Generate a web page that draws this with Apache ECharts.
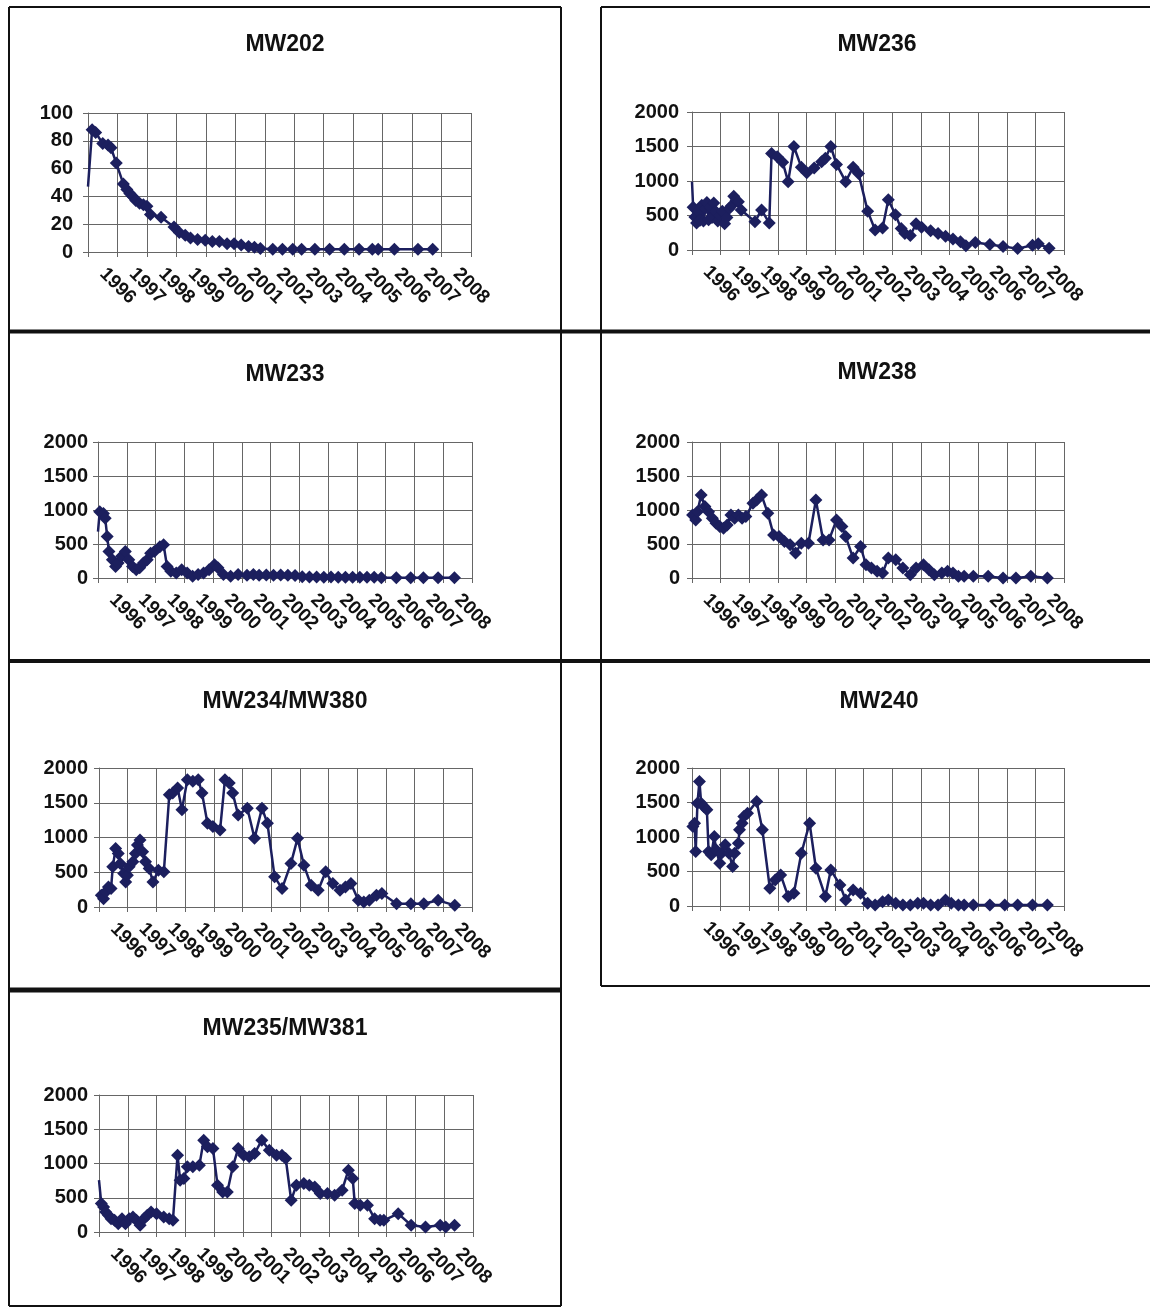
<!DOCTYPE html>
<html><head><meta charset="utf-8">
<script src="https://cdn.jsdelivr.net/npm/echarts@6/dist/echarts.min.js"></script>
<style>html,body{margin:0;padding:0;background:#fff}#c{width:1150px;height:1310px}</style>
</head><body><div id="c"></div>
<script>
// ---------- DATA ----------
const years = ['1996','1997','1998','1999','2000','2001','2002','2003','2004','2005','2006','2007','2008'];

const mw202Start = [1996.0, 47];
const mw202 = [[1996.14,88],[1996.26,86],[1996.5,78],[1996.68,77],[1996.78,75],[1996.96,64],[1997.2,49],[1997.32,45],[1997.42,42],[1997.52,40],[1997.62,37],[1997.75,35],[1997.88,34],[1998.0,33],[1998.12,27],[1998.48,25],[1998.92,18],[1999.1,14],[1999.3,12],[1999.48,10],[1999.72,9],[1999.98,8.5],[2000.22,7.5],[2000.46,7.5],[2000.72,6],[2000.96,6],[2001.2,5],[2001.45,4],[2001.65,3.5],[2001.85,2.5],[2002.27,2],[2002.6,2],[2002.95,2],[2003.25,2],[2003.7,2],[2004.2,2],[2004.7,2],[2005.2,2],[2005.65,2],[2005.85,2],[2006.4,2],[2007.2,2],[2007.7,2]];

const mw236Start = [1996.0, 990];
const mw236 = [[1996.04,620],[1996.1,480],[1996.16,390],[1996.22,560],[1996.28,430],[1996.34,650],[1996.4,420],[1996.46,600],[1996.52,690],[1996.58,440],[1996.64,620],[1996.7,470],[1996.76,680],[1996.82,560],[1996.9,420],[1996.98,500],[1997.06,560],[1997.14,380],[1997.22,470],[1997.3,600],[1997.38,640],[1997.46,780],[1997.54,720],[1997.62,700],[1997.72,580],[1998.2,410],[1998.43,580],[1998.7,390],[1998.78,1400],[1998.98,1350],[1999.17,1270],[1999.36,990],[1999.56,1500],[1999.82,1200],[2000.01,1120],[2000.27,1190],[2000.53,1280],[2000.66,1330],[2000.85,1500],[2001.05,1240],[2001.37,990],[2001.63,1200],[2001.82,1110],[2002.14,560],[2002.4,290],[2002.66,320],[2002.86,730],[2003.11,510],[2003.31,310],[2003.44,240],[2003.63,210],[2003.83,380],[2004.02,330],[2004.34,280],[2004.6,240],[2004.86,200],[2005.12,160],[2005.38,120],[2005.57,60],[2005.9,110],[2006.41,80],[2006.87,50],[2007.38,20],[2007.9,70],[2008.1,90],[2008.48,25]];

const mw233Start = [1996.0, 683];
const mw233 = [[1996.06,975],[1996.19,950],[1996.25,880],[1996.32,610],[1996.38,390],[1996.5,270],[1996.61,170],[1996.7,220],[1996.82,320],[1996.95,390],[1997.07,270],[1997.2,170],[1997.33,120],[1997.45,150],[1997.58,220],[1997.71,270],[1997.83,365],[1997.96,390],[1998.15,460],[1998.28,490],[1998.4,170],[1998.53,100],[1998.72,75],[1998.91,120],[1999.1,75],[1999.29,25],[1999.48,50],[1999.67,75],[1999.86,120],[2000.05,195],[2000.17,150],[2000.36,50],[2000.61,25],[2000.87,50],[2001.18,40],[2001.4,50],[2001.6,40],[2001.85,45],[2002.1,40],[2002.35,45],[2002.6,40],[2002.85,35],[2003.1,20],[2003.35,15],[2003.6,15],[2003.85,10],[2004.1,15],[2004.35,10],[2004.6,10],[2004.85,10],[2005.1,10],[2005.35,10],[2005.6,10],[2005.85,5],[2006.37,5],[2006.87,5],[2007.31,5],[2007.82,5],[2008.39,5]];

const mw238Start = null;
const mw238 = [[1996.02,927],[1996.13,854],[1996.19,976],[1996.32,1220],[1996.45,1050],[1996.58,976],[1996.71,878],[1996.84,805],[1996.97,756],[1997.1,732],[1997.23,780],[1997.36,927],[1997.49,878],[1997.62,927],[1997.75,878],[1997.88,903],[1998.13,1098],[1998.26,1146],[1998.43,1220],[1998.65,951],[1998.85,634],[1999.04,610],[1999.23,537],[1999.43,488],[1999.62,366],[1999.82,512],[2000.07,512],[2000.33,1146],[2000.58,560],[2000.79,560],[2001.05,854],[2001.24,756],[2001.37,610],[2001.63,293],[2001.89,463],[2002.08,195],[2002.27,146],[2002.47,98],[2002.66,73],[2002.86,293],[2003.12,268],[2003.37,146],[2003.63,49],[2003.83,146],[2004.09,195],[2004.28,122],[2004.47,49],[2004.73,73],[2004.93,98],[2005.12,73],[2005.31,24],[2005.51,24],[2005.83,24],[2006.35,24],[2006.87,0],[2007.32,0],[2007.84,24],[2008.42,0]];

const mw234Start = null;
const mw234 = [[1996.08,169],[1996.16,120],[1996.23,217],[1996.33,289],[1996.42,265],[1996.48,578],[1996.58,843],[1996.67,771],[1996.74,627],[1996.86,482],[1996.93,361],[1996.99,458],[1997.05,578],[1997.18,650],[1997.27,771],[1997.34,892],[1997.43,964],[1997.52,795],[1997.62,650],[1997.75,554],[1997.88,361],[1998.07,530],[1998.26,506],[1998.45,1615],[1998.57,1639],[1998.74,1711],[1998.89,1398],[1999.08,1832],[1999.27,1808],[1999.46,1832],[1999.59,1639],[1999.78,1205],[1999.97,1157],[2000.22,1109],[2000.39,1832],[2000.54,1783],[2000.66,1639],[2000.85,1325],[2001.17,1422],[2001.42,988],[2001.68,1422],[2001.87,1205],[2002.12,434],[2002.38,265],[2002.69,627],[2002.92,988],[2003.14,602],[2003.39,313],[2003.64,241],[2003.9,506],[2004.15,337],[2004.4,241],[2004.59,289],[2004.78,337],[2005.04,96],[2005.23,72],[2005.42,96],[2005.67,169],[2005.86,193],[2006.37,48],[2006.87,48],[2007.32,48],[2007.82,96],[2008.4,24]];

const mw240Start = null;
const mw240 = [[1996.03,1153],[1996.09,1200],[1996.13,790],[1996.19,1490],[1996.26,1805],[1996.32,1490],[1996.41,1443],[1996.52,1395],[1996.58,790],[1996.67,741],[1996.78,1007],[1996.84,814],[1996.97,620],[1997.03,765],[1997.16,886],[1997.29,765],[1997.42,571],[1997.49,765],[1997.62,910],[1997.66,1104],[1997.75,1200],[1997.81,1298],[1997.94,1346],[1998.26,1516],[1998.46,1104],[1998.72,257],[1998.91,378],[1999.1,450],[1999.36,136],[1999.56,184],[1999.82,765],[2000.11,1200],[2000.33,547],[2000.66,136],[2000.85,523],[2001.17,305],[2001.37,87],[2001.63,232],[2001.89,184],[2002.14,39],[2002.4,15],[2002.66,63],[2002.86,87],[2003.12,39],[2003.37,15],[2003.63,15],[2003.89,39],[2004.09,39],[2004.34,15],[2004.6,15],[2004.86,87],[2005.06,39],[2005.31,15],[2005.51,15],[2005.83,15],[2006.41,15],[2006.93,15],[2007.38,15],[2007.9,15],[2008.42,15]];

const mw235Start = [1996.0, 756];
const mw235 = [[1996.08,415],[1996.16,366],[1996.23,293],[1996.33,244],[1996.42,195],[1996.54,171],[1996.67,122],[1996.8,195],[1996.92,122],[1997.05,195],[1997.18,220],[1997.3,171],[1997.43,98],[1997.56,195],[1997.68,244],[1997.81,293],[1998.0,268],[1998.25,220],[1998.44,195],[1998.57,171],[1998.73,1122],[1998.82,756],[1998.95,780],[1999.07,951],[1999.26,951],[1999.49,976],[1999.64,1341],[1999.77,1244],[1999.96,1220],[2000.12,683],[2000.3,585],[2000.46,585],[2000.65,951],[2000.84,1220],[2001.03,1122],[2001.22,1098],[2001.41,1146],[2001.66,1341],[2001.92,1195],[2002.17,1122],[2002.36,1122],[2002.49,1073],[2002.68,463],[2002.86,683],[2003.12,707],[2003.31,683],[2003.5,658],[2003.69,561],[2003.94,561],[2004.19,537],[2004.45,610],[2004.67,902],[2004.82,780],[2004.89,415],[2005.08,390],[2005.33,390],[2005.58,195],[2005.77,171],[2005.9,171],[2006.4,268],[2006.85,98],[2007.35,73],[2007.86,98],[2008.05,73],[2008.36,98]];

// ---------- LAYOUT / STYLE ----------
const FONT = "'Liberation Sans', Arial, sans-serif";
const NAVY = '#1c1f5e';
const GRIDC = '#666666';

const panels = [
  {name:'MW202', start:mw202Start, data:mw202, max:100, step:20, grid:{left:88,top:113,width:383,height:139}, title:[285,45], ym:15},
  {name:'MW236', start:mw236Start, data:mw236, max:2000, step:500, grid:{left:692,top:112,width:372,height:138}, title:[877,45], ym:13},
  {name:'MW233', start:mw233Start, data:mw233, max:2000, step:500, grid:{left:98,top:442,width:374,height:136}, title:[285,375], ym:10},
  {name:'MW238', start:mw238Start, data:mw238, max:2000, step:500, grid:{left:692,top:442,width:372,height:136}, title:[877,373], ym:12},
  {name:'MW234/MW380', start:mw234Start, data:mw234, max:2000, step:500, grid:{left:99,top:768,width:373,height:139}, title:[285,702], ym:11},
  {name:'MW240', start:mw240Start, data:mw240, max:2000, step:500, grid:{left:692,top:768,width:372,height:138}, title:[879,702], ym:12},
  {name:'MW235/MW381', start:mw235Start, data:mw235, max:2000, step:500, grid:{left:99,top:1095,width:374,height:137}, title:[285,1029], ym:11}
];

const grids = [], xAxes = [], yAxes = [], series = [], titles = [];
panels.forEach((p, i) => {
  grids.push(Object.assign({containLabel:false}, p.grid));
  titles.push({text:p.name, left:p.title[0], top:p.title[1], textAlign:'center', textVerticalAlign:'middle', padding:0,
    textStyle:{fontSize:23, fontWeight:'bold', color:'#111111', fontFamily:FONT}});
  // value x axis: carries the data and the vertical grid lines
  xAxes.push({type:'value', gridIndex:i, min:1996, max:2009, interval:1, position:'bottom',
    axisLine:{show:true, lineStyle:{color:GRIDC, width:1}},
    axisTick:{show:true, length:5, lineStyle:{color:GRIDC}},
    axisLabel:{show:false},
    splitLine:{show:true, lineStyle:{color:GRIDC, width:1}}});
  // category x axis: year labels centred in each column
  xAxes.push({type:'category', gridIndex:i, data:years, boundaryGap:true, position:'bottom',
    axisLine:{show:false}, axisTick:{show:false}, splitLine:{show:false},
    axisLabel:{interval:0, rotate:-45, margin:19, fontSize:19, fontWeight:'bold', color:'#111111', fontFamily:FONT}});
  yAxes.push({type:'value', gridIndex:i, min:0, max:p.max, interval:p.step,
    axisLine:{show:true, lineStyle:{color:GRIDC}},
    axisTick:{show:true, length:5, lineStyle:{color:GRIDC}},
    axisLabel:{margin:p.ym, fontSize:20, fontWeight:'bold', color:'#111111', fontFamily:FONT, formatter:v => String(v)},
    splitLine:{show:true, lineStyle:{color:GRIDC, width:1}}});
  const d = [];
  if (p.start) d.push({value:p.start, symbol:'none'});
  p.data.forEach(v => d.push(v));
  series.push({type:'line', xAxisIndex:i*2, yAxisIndex:i, data:d, symbol:'diamond', symbolSize:13,
    itemStyle:{color:NAVY}, lineStyle:{color:NAVY, width:2.5}, clip:true, animation:false});
});

const L = (x1,y1,x2,y2,w) => ({type:'line', silent:true, shape:{x1,y1,x2,y2}, style:{stroke:'#111', lineWidth:w}});
const borders = [
  L(9,7,561,7,2), L(9,7,9,1306,2), L(561,7,561,1306,2), L(9,1306,561,1306,2),
  L(601,7,1150,7,2), L(601,7,601,986,2), L(601,986,1150,986,2),
  L(9,331.5,1150,331.5,4), L(9,661,1150,661,4), L(9,990,561,990,5)
];

const chart = echarts.init(document.getElementById('c'), null, {renderer:'canvas'});
chart.setOption({
  animation:false,
  backgroundColor:'#ffffff',
  title:titles, grid:grids, xAxis:xAxes, yAxis:yAxes, series:series,
  graphic:borders
});
</script></body></html>
